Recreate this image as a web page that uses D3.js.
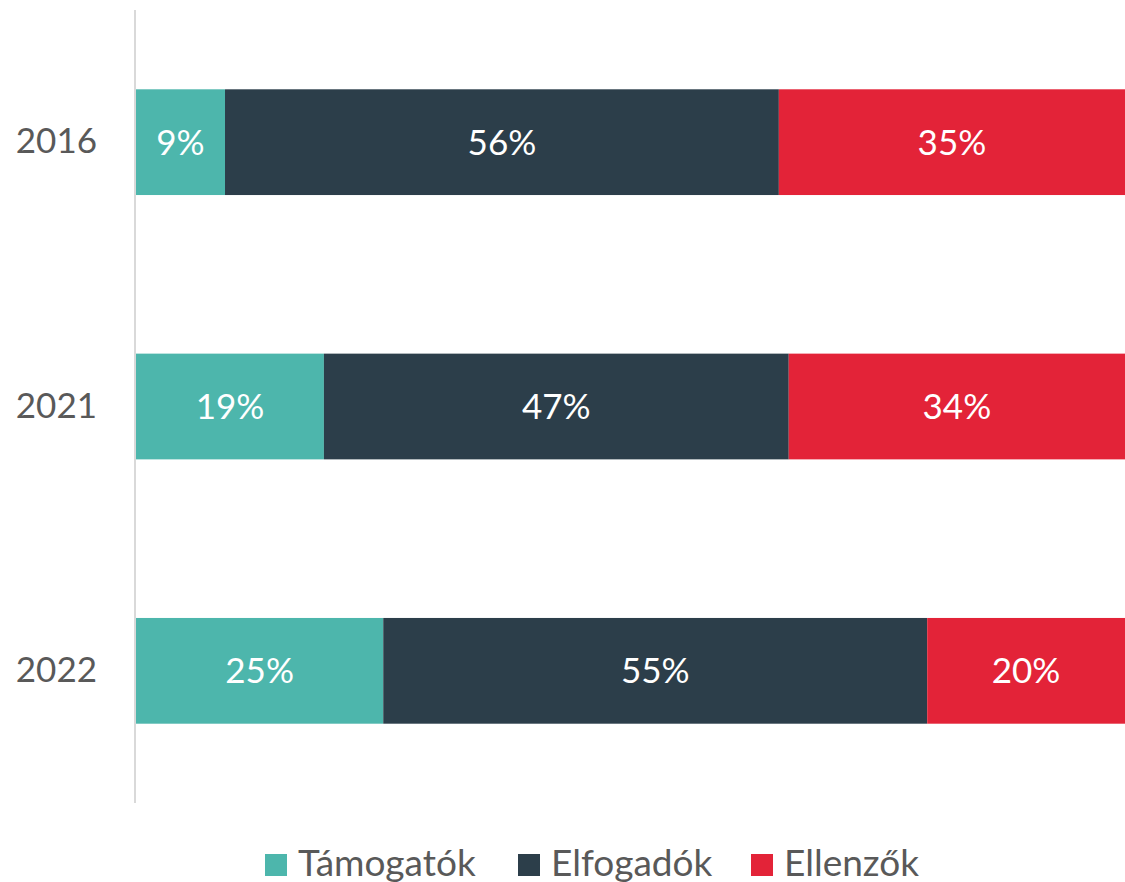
<!DOCTYPE html>
<html>
<head>
<meta charset="utf-8">
<script src="https://cdn.jsdelivr.net/npm/d3@7"></script>
<style>
  body { margin: 0; background: #fff; }
  svg { display: block; font-family: "Lato", "Open Sans", sans-serif; }
</style>
</head>
<body>
<svg id="chart" width="1125" height="882"></svg>
<script>
var years = ["2016", "2021", "2022"];
var seriesNames = ["Támogatók", "Elfogadók", "Ellenzők"];
var tamogatok = [9, 19, 25];
var elfogadok = [56, 47, 55];
var ellenzok = [35, 34, 20];
var colors = ["#4db6ac", "#2c3e4a", "#e32338"];

var svg = d3.select("#chart");
var plotLeft = 136, plotRight = 1125, plotTop = 10, plotBottom = 803;

var rows = years.map(function(y, i) {
  return { year: y, "Támogatók": tamogatok[i], "Elfogadók": elfogadok[i], "Ellenzők": ellenzok[i] };
});
var stacked = d3.stack().keys(seriesNames)(rows);

var x = d3.scaleLinear().domain([0, 100]).range([plotLeft, plotRight]);
var y = d3.scaleBand().domain(years).range([plotTop, plotBottom]).paddingInner(0.6).paddingOuter(0.3);

// bars
var layers = svg.append("g").attr("class", "data")
  .selectAll("g.layer")
  .data(stacked)
  .enter().append("g")
  .attr("class", "layer")
  .attr("fill", function(d, i) { return colors[i]; });

layers.selectAll("rect")
  .data(function(d) { return d; })
  .enter().append("rect")
  .attr("x", function(d) { return x(d[0]); })
  .attr("width", function(d) { return x(d[1]) - x(d[0]); })
  .attr("y", function(d) { return y(d.data.year); })
  .attr("height", y.bandwidth());

layers.selectAll("text")
  .data(function(d) { return d; })
  .enter().append("text")
  .attr("x", function(d) { return (x(d[0]) + x(d[1])) / 2; })
  .attr("y", function(d) { return y(d.data.year) + y.bandwidth() / 2; })
  .attr("dy", "0.36em")
  .attr("text-anchor", "middle")
  .attr("fill", "#fff")
  .attr("font-size", 35)
  .text(function(d) { return (d[1] - d[0]) + "%"; });

// axis
var yAxis = svg.append("g")
  .attr("transform", "translate(" + (plotLeft - 1) + ",0)")
  .call(d3.axisLeft(y).tickSize(0).tickPadding(38));
yAxis.select(".domain").attr("stroke", "#d9d9d9").attr("stroke-width", 2)
  .attr("d", "M0," + plotTop + "V" + plotBottom);
yAxis.selectAll("text")
  .attr("font-family", "Lato, 'Open Sans', sans-serif")
  .attr("font-size", 35)
  .attr("fill", "#595959");

// legend
var legendX = [265, 518, 751];
var legend = svg.append("g").attr("class", "legend")
  .selectAll("g")
  .data(seriesNames)
  .enter().append("g")
  .attr("transform", function(d, i) { return "translate(" + legendX[i] + ",0)"; });
legend.append("rect")
  .attr("x", 0).attr("y", 854)
  .attr("width", 22).attr("height", 22)
  .attr("fill", function(d, i) { return colors[i]; });
legend.append("text")
  .attr("x", 33).attr("y", 876)
  .attr("font-size", 37)
  .attr("fill", "#595959")
  .text(function(d) { return d; });
</script>
</body>
</html>
